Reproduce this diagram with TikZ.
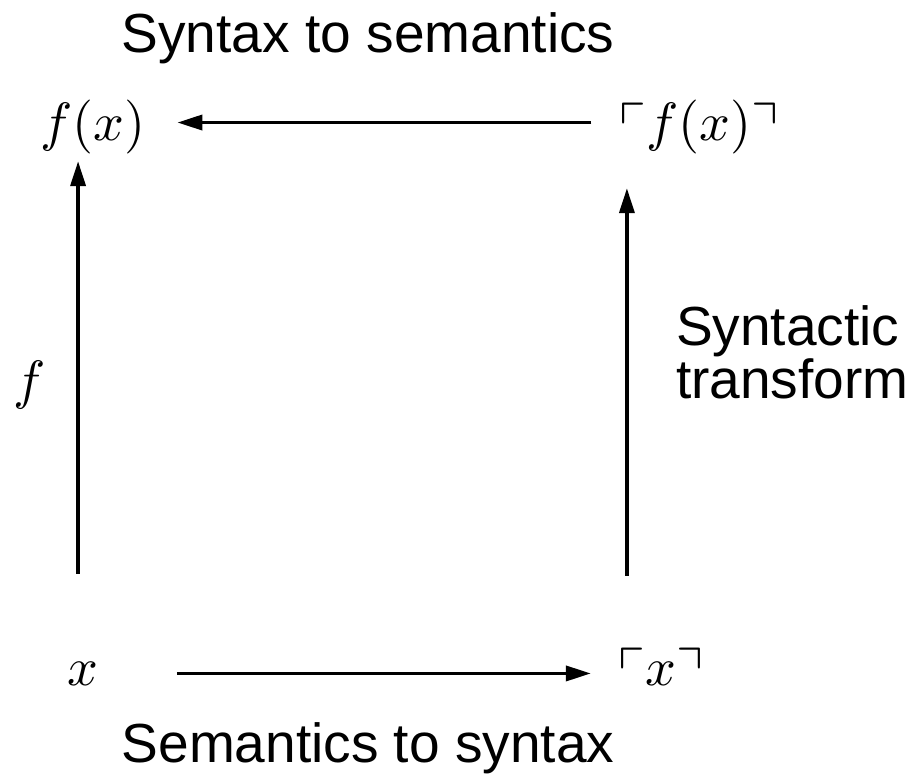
\documentclass[tikz,border=0pt]{standalone}
\usepackage{amssymb}
\usepackage{fontspec}
\setmainfont{Liberation Sans}
\usetikzlibrary{arrows.meta}

\begin{document}
\begin{tikzpicture}[arr/.style={line width=0.6pt,-{Triangle[length=4.6pt,width=2.8pt]}},
lbl/.style={font=\fontsize{10.2}{9.8}\selectfont}]
\useasboundingbox (0,0) rectangle (5.931,5.052);
\node (fx) at (0.605,4.228) {$f(x)$};
\node (fxq) at (4.551,4.228) {$\ulcorner f(x)\urcorner$};
\node[anchor=base] (x) at (0.540,0.592) {$x$};
\node[anchor=base] (xq) at (4.306,0.592) {$\ulcorner x\urcorner$};
\draw[arr,shorten <=1.7pt,shorten >=2.4pt] ([yshift=0.75pt]fxq.west) -- ([yshift=0.75pt]fx.east);
\draw[arr,shorten <=11pt,shorten >=1.7pt] (x.east) -- (x.east -| xq.west);
\draw[arr,shorten <=12.8pt,shorten >=-2.1pt] ([xshift=-0.9pt]x.north) -- ([xshift=-0.9pt]x.north |- fx.south);
\draw[arr,shorten <=9.8pt,shorten >=2.9pt] ([xshift=5pt]xq.north west) -- ([xshift=5pt]xq.north west |- fxq.south);
\node[lbl,anchor=base] (top) at (2.396,4.713) {Syntax to semantics};
\node[lbl,anchor=base] (bot) at (2.396,0.091) {Semantics to syntax};
\node (flbl) at (0.195,2.545) {$f$};
\node[lbl,anchor=west,align=left] (tr) at (4.277,2.760) {Syntactic\\transform};
\end{tikzpicture}
\end{document}
